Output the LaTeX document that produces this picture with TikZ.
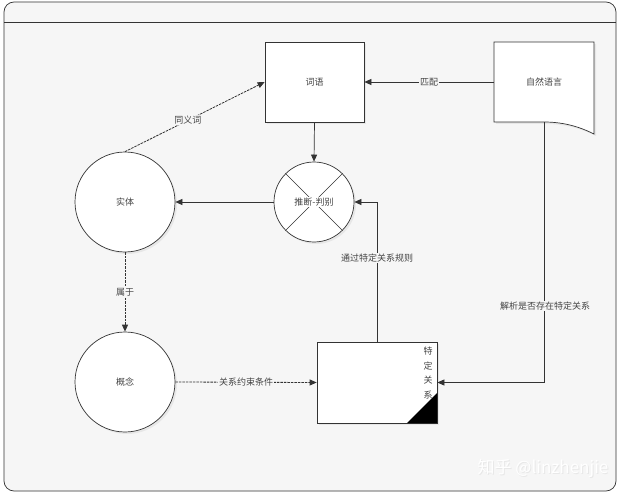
\documentclass[tikz,border=0pt]{standalone}
\usepackage{fontspec}
\newfontfamily\cjk{Noto Sans CJK SC}
\usetikzlibrary{arrows.meta,shadows}
\definecolor{bgc}{HTML}{F6F6F6}
\definecolor{linec}{HTML}{333333}
\definecolor{txt}{HTML}{444444}
\begin{document}
\begin{tikzpicture}[x=1pt,y=-1pt,
  every node/.style={font=\cjk\fontsize{9}{10}\selectfont, text=txt},
  conn/.style={draw=linec, line width=0.7pt},
  arr/.style={-{Triangle[length=7pt,width=6pt]}},
  dsh/.style={dash pattern=on 2.5pt off 1pt, line width=0.8pt},
  lab/.style={fill=bgc, inner sep=1pt},
  boxs/.style={draw=linec, line width=0.7pt, fill=white, drop shadow={opacity=0.12, shadow xshift=2pt, shadow yshift=-2pt}},
  circ/.style={circle, draw=linec, line width=0.7pt, fill=white, inner sep=0pt, drop shadow={opacity=0.12, shadow xshift=2pt, shadow yshift=-2pt}}
]
\useasboundingbox (0,0) rectangle (622,495);
\fill[white] (0,0) rectangle (622,495);
% frame
\draw[linec, line width=0.7pt, fill=bgc, rounded corners=10pt] (4,2) rectangle (616,491);
\draw[linec, line width=0.7pt] (4,22) -- (616,22);

% nodes
\node[boxs, rectangle, minimum width=99pt, minimum height=80pt] (cy) at (314.5,82) {词语};
\node[rectangle, minimum width=100pt, minimum height=80pt, inner sep=0pt] (zr) at (544,82) {};
\draw[boxs] (494,42) -- (594,42) -- (594,134) .. controls (578,126) and (562,122) .. (544,122) -- (494,122) -- cycle;
\node at (544,82) {自然语言};

\node[circ, minimum size=80pt] (tj) at (314,202) {};
\draw[linec, line width=0.6pt] (tj.45) -- (tj.225) (tj.135) -- (tj.315);
\node[fill=white, inner sep=1pt] at (314,202) {推断-判别};

\node[circ, minimum size=100pt] (st) at (125,202) {实体};
\node[circ, minimum size=100pt] (gn) at (125,382) {概念};

\node[boxs, rectangle, minimum width=120pt, minimum height=81pt] (td) at (377,382.5) {};
\fill[black] (407,423) -- (437,423) -- (437,393) -- cycle;
\node[align=center, inner sep=0pt, font=\cjk\fontsize{9}{14.7}\selectfont] at (428,373) {特\\定\\关\\系};

% connectors
\draw[conn, arr] (zr.west) -- node[lab] {匹配} (cy.east);
\draw[conn, arr] (cy.south) -- (tj.north);
\draw[conn, arr] (tj.west) -- (st.east);
\draw[conn, arr, dsh] (st.north) -- node[lab, pos=0.45] {同义词} (cy.west);
\draw[conn, arr, dsh] (st.south) -- node[lab] {属于} (gn.north);
\draw[conn, arr, dsh] (gn.east) -- node[lab] {关系约束条件} (td.west);
\draw[conn, arr] (td.north) |- (tj.east);
\node[lab] at (377,258) {通过特定关系规则};
\draw[conn, arr] (zr.south) |- (td.east);
\node[lab] at (545,306) {解析是否存在特定关系};

% watermark
\node[font=\cjk\fontsize{17}{20}\selectfont, text=black!9] at (544,469) {知乎 @linzhenjie};
\node[font=\cjk\fontsize{17}{20}\selectfont, text=white] at (543,468) {知乎 @linzhenjie};
\end{tikzpicture}
\end{document}
